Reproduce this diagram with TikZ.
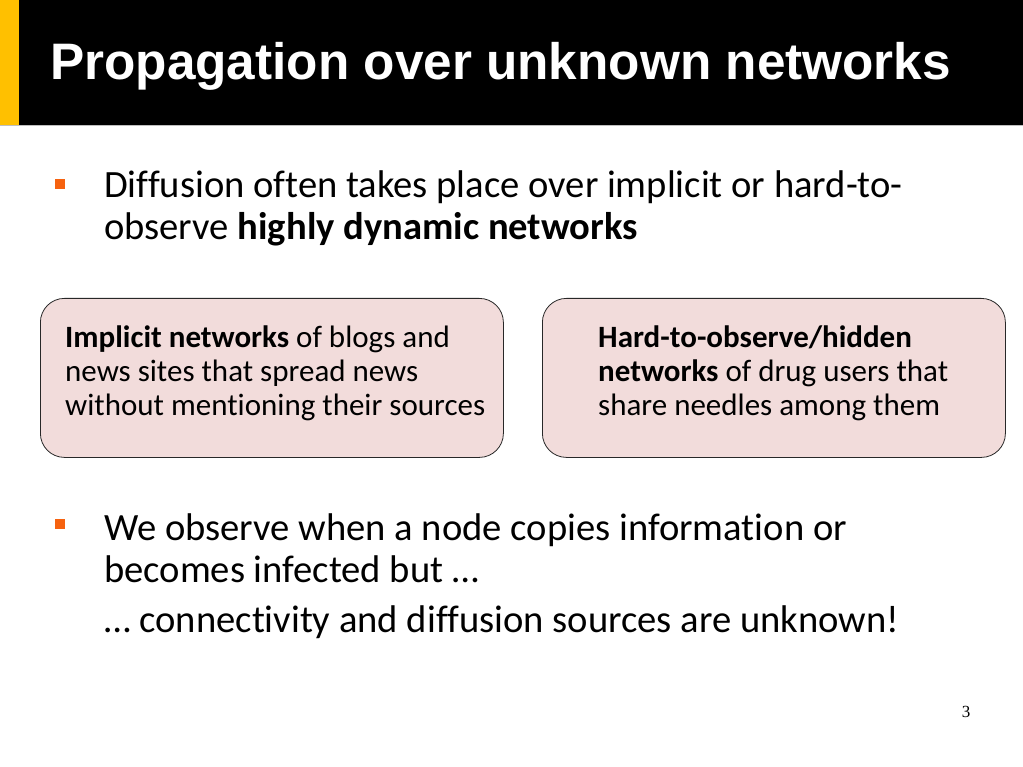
\documentclass[tikz,border=0pt]{standalone}
\usepackage{fontspec}
\setmainfont[Ligatures = NoCommon]{Carlito}
\newfontfamily\TitleFont{Liberation Sans}
\newfontfamily\PageFont{Liberation Serif}
\usetikzlibrary{positioning}
\definecolor{BarYellow}{RGB}{255,192,0}
\definecolor{BulletOrange}{RGB}{246,98,16}
\definecolor{BoxPink}{RGB}{242,220,219}
\definecolor{BoxLine}{RGB}{40,40,40}

\begin{document}
\begin{tikzpicture}
[
	x				= 1pt,
	y				= -1pt,
	Bullet/.style	= {fill = BulletOrange, inner sep = 0pt, minimum size = 10pt},
	Item/.style		= {font = \fontsize{38.6}{42}\selectfont, align = left, anchor = base west, inner sep = 0pt},
	Box/.style		= {draw = BoxLine, fill = BoxPink, rounded corners = 24pt, line width = 0.8pt, minimum width = 463pt, minimum height = 159pt, anchor = north west},
	BoxText/.style	= {font = \fontsize{31}{34}\selectfont, align = left, anchor = base west, inner sep = 0pt},
]

	\useasboundingbox [fill = white] (0,0) rectangle (1023,767);

	% title bar
	\fill [black] (19,0) rectangle (1023,125);
	\fill [BarYellow] (0,0) rectangle (19,125);
	\draw [black!25, line width = 1pt] (0,126) -- (1023,126);
	\node (title) [font = \TitleFont\bfseries\fontsize{51.3}{60}\selectfont, text = white, anchor = base west, inner sep = 0pt] at (50,80) {Propagation over unknown networks};

	% first bullet (base = last line)
	\node (b1) [Bullet] at (60,184) {};
	\node (i1) [Item] at (104,240) {Diffusion often takes place over implicit or hard-to-\\observe \textbf{highly dynamic networks}};

	% the two boxes
	\node (box1) [Box] at (40,298) {};
	\node (box2) [Box] at (542,298) {};
	\node (t1) [BoxText] at (65,415) {\textbf{Implicit networks} of blogs and\\news sites that spread news\\without mentioning their sources};
	\node (t2) [BoxText] at (598,415) {\textbf{Hard-to-observe/hidden}\\\textbf{networks} of drug users that\\share needles among them};

	% second bullet
	\node (b2) [Bullet] at (60,524) {};
	\node (i2) [Item] at (104,582) {We observe when a node copies information or\\becomes infected but …};
	\node (i3) [Item] at (104,632) {… connectivity and diffusion sources are unknown!};

	\node (page) [font = \PageFont\fontsize{17}{20}\selectfont, anchor = base] at (966,717) {3};

\end{tikzpicture}
\end{document}
